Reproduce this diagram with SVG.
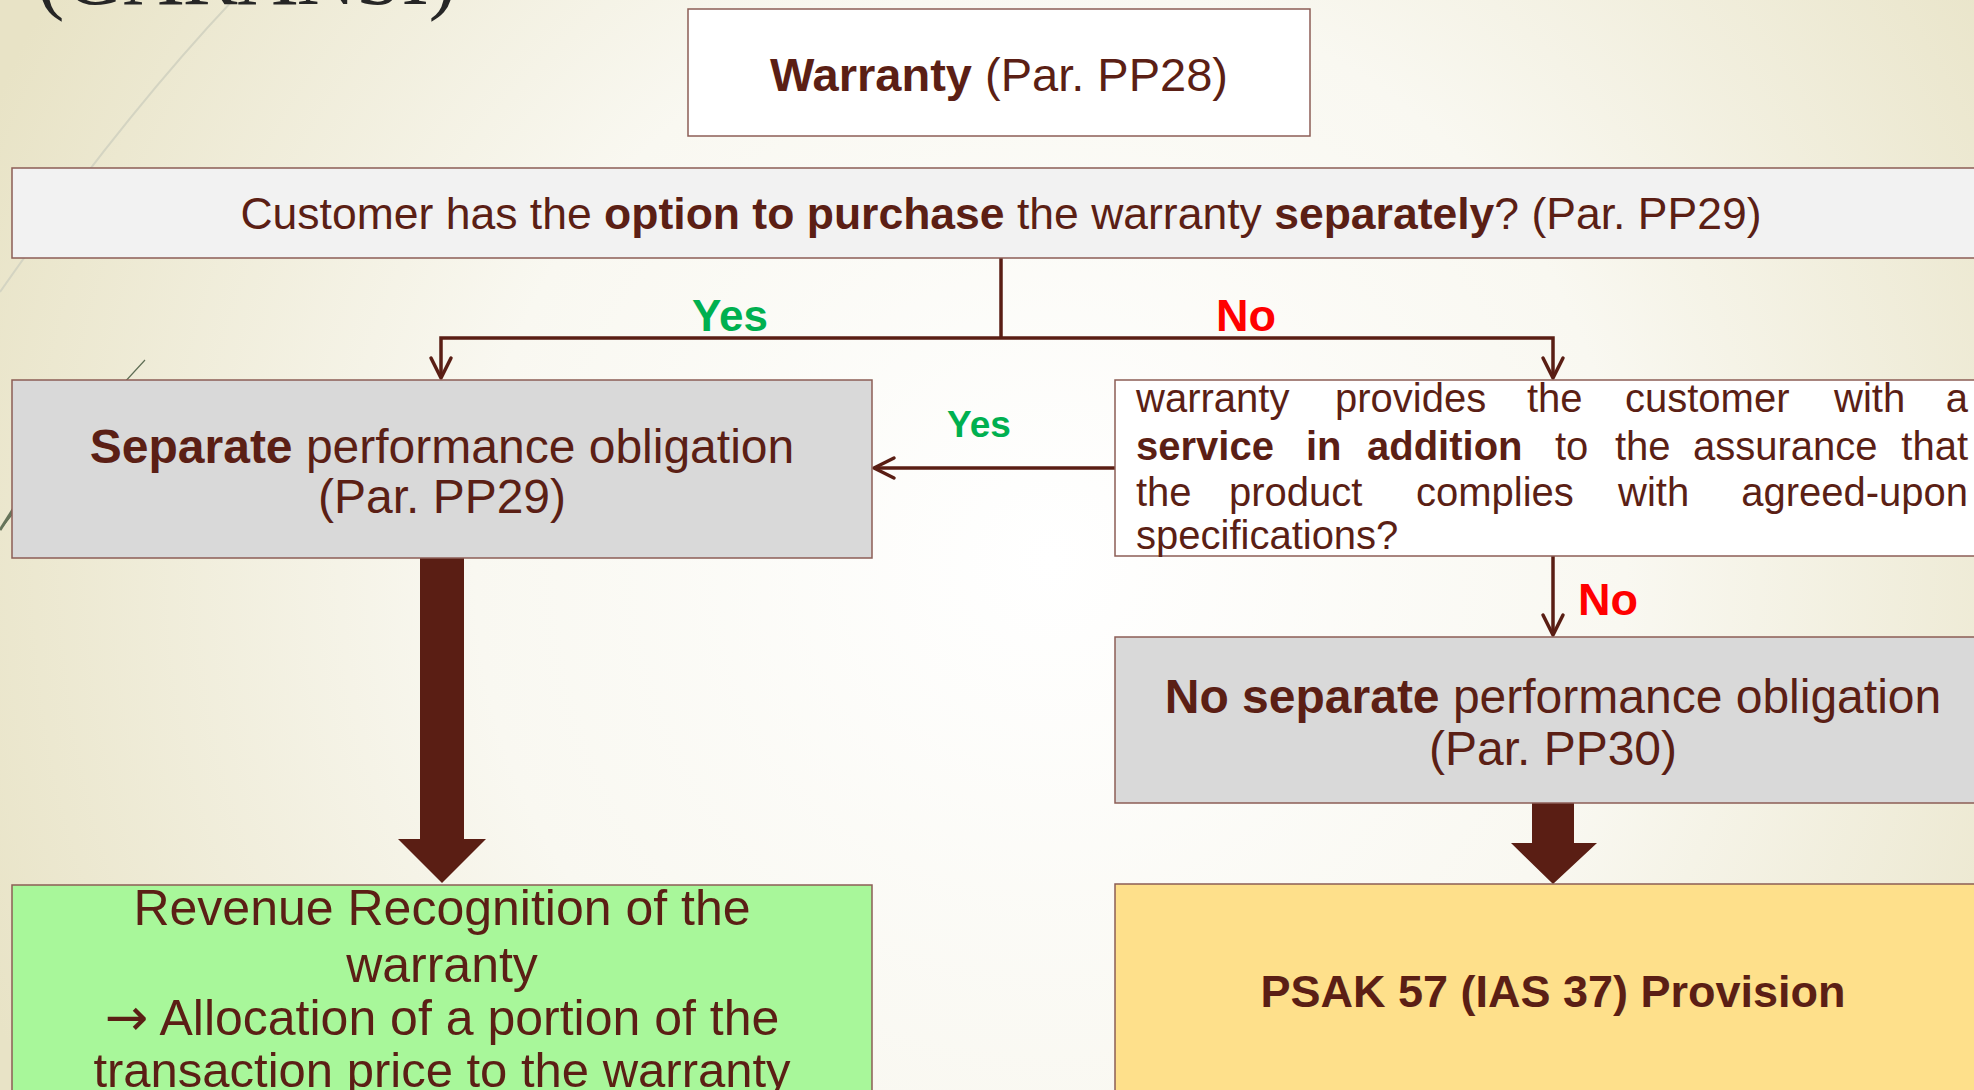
<svg xmlns="http://www.w3.org/2000/svg" width="1974" height="1090" viewBox="0 0 1974 1090">
  <defs>
    <radialGradient id="bg" cx="1050" cy="560" r="1150" gradientUnits="userSpaceOnUse">
      <stop offset="0" stop-color="#ffffff"/>
      <stop offset="0.5" stop-color="#f9f8f1"/>
      <stop offset="1" stop-color="#e8e3c6"/>
    </radialGradient>
    <marker id="chevron" markerUnits="userSpaceOnUse" markerWidth="26" markerHeight="26" viewBox="0 0 26 26" refX="23" refY="13" orient="auto">
      <path d="M3,3 L23,13 L3,23" fill="none" stroke="#5a1e14" stroke-width="3.5" stroke-linecap="round" stroke-linejoin="round"/>
    </marker>
    <style>
      .box { stroke: #8c5d56; stroke-width: 1.5; }
      .t { font-family: "Liberation Sans", Arial, sans-serif; fill: #5b1f15; }
      .b { font-weight: bold; }
      .c { text-anchor: middle; }
      .e { text-anchor: end; }
      .yes { font-family: "Liberation Sans", Arial, sans-serif; font-weight: bold; fill: #00b050; }
      .no { font-family: "Liberation Sans", Arial, sans-serif; font-weight: bold; fill: #ff0000; }
      .link { fill: none; stroke: #5a1e14; stroke-width: 3.5; }
      .big { fill: #5a1e14; }
      .arrow { font-family: "DejaVu Sans", sans-serif; }
    </style>
  </defs>

  <!-- background and theme decoration -->
  <rect x="0" y="0" width="1974" height="1090" fill="url(#bg)"/>
  <path d="M233,0 Q120,120 0,292" fill="none" stroke="#d4d4c2" stroke-width="2"/>
  <path d="M145,360 Q70,440 0,530" fill="none" stroke="#5f6e55" stroke-width="1.2"/>
  <path d="M14,508 L0,530" fill="none" stroke="#66745a" stroke-width="3"/>
  <text x="37" y="4" font-family="'Liberation Serif', 'Times New Roman', serif" font-size="82" fill="#262626">(GARANSI)</text>

  <!-- connectors -->
  <g id="connectors">
    <path class="link" d="M1001,258 V338"/>
    <path class="link" d="M1001,338 H441 V378" marker-end="url(#chevron)"/>
    <path class="link" d="M1001,338 H1553 V378" marker-end="url(#chevron)"/>
    <path class="link" d="M1115,468 H874" marker-end="url(#chevron)"/>
    <path class="link" d="M1553,556 V635" marker-end="url(#chevron)"/>
    <polygon class="big" points="420,558 464,558 464,839 486,839 442,883 398,839 420,839"/>
    <polygon class="big" points="1532,803 1574,803 1574,843 1597,843 1553,884 1511,843 1532,843"/>
    <text class="yes c" x="730" y="331" font-size="44">Yes</text>
    <text class="no c" x="1246" y="331" font-size="45">No</text>
    <text class="yes c" x="979" y="437" font-size="37">Yes</text>
    <text class="no" x="1578" y="615" font-size="45">No</text>
  </g>

  <g id="warranty">
    <rect class="box" x="688" y="9" width="622" height="127" fill="#ffffff"/>
    <text class="t c" x="999" y="91" font-size="47"><tspan class="b">Warranty</tspan> (Par. PP28)</text>
  </g>

  <g id="purchase-separately">
    <rect class="box" x="12" y="168" width="1980" height="90" fill="#f2f2f2"/>
    <text class="t c" x="1001" y="229" font-size="44.5">Customer has the <tspan class="b">option to purchase</tspan> the warranty <tspan class="b">separately</tspan>? (Par. PP29)</text>
  </g>

  <g id="separate-po">
    <rect class="box" x="12" y="380" width="860" height="178" fill="#d9d9d9"/>
    <text class="t c" x="442" y="463" font-size="48"><tspan class="b">Separate</tspan> performance obligation</text>
    <text class="t c" x="442" y="513" font-size="48">(Par. PP29)</text>
  </g>

  <g id="service-in-addition">
    <rect class="box" x="1115" y="380" width="880" height="176" fill="#ffffff"/>
    <!-- justified paragraph: words placed one by one, last word of each full line flush right -->
    <text class="t" y="412" font-size="40"><tspan x="1136">warranty</tspan><tspan x="1335">provides</tspan><tspan x="1527">the</tspan><tspan x="1625">customer</tspan><tspan x="1834">with</tspan></text>
    <text class="t e" x="1968" y="412" font-size="40">a</text>
    <text class="t" y="460" font-size="40"><tspan class="b" x="1136">service</tspan><tspan class="b" x="1306">in</tspan><tspan class="b" x="1367">addition</tspan><tspan x="1555">to</tspan><tspan x="1615">the</tspan><tspan x="1693">assurance</tspan></text>
    <text class="t e" x="1968" y="460" font-size="40">that</text>
    <text class="t" y="506" font-size="40"><tspan x="1136">the</tspan><tspan x="1229">product</tspan><tspan x="1416">complies</tspan><tspan x="1618">with</tspan></text>
    <text class="t e" x="1968" y="506" font-size="40">agreed-upon</text>
    <text class="t" x="1136" y="549" font-size="40">specifications?</text>
  </g>

  <g id="no-separate-po">
    <rect class="box" x="1115" y="637" width="880" height="166" fill="#d9d9d9"/>
    <text class="t c" x="1553" y="713" font-size="48"><tspan class="b">No separate</tspan> performance obligation</text>
    <text class="t c" x="1553" y="765" font-size="48">(Par. PP30)</text>
  </g>

  <g id="revenue-recognition">
    <rect class="box" x="12" y="885" width="860" height="220" fill="#a8f79a"/>
    <text class="t c" x="442" y="925" font-size="50">Revenue Recognition of the</text>
    <text class="t c" x="442" y="982" font-size="50">warranty</text>
    <text class="t c" x="442" y="1035" font-size="50"><tspan class="arrow" font-size="52">→</tspan> Allocation of a portion of the</text>
    <text class="t c" x="442" y="1087" font-size="49">transaction price to the warranty</text>
  </g>

  <g id="provision">
    <rect class="box" x="1115" y="884" width="880" height="220" fill="#fee08b"/>
    <text class="t b c" x="1553" y="1007" font-size="45">PSAK 57 (IAS 37) Provision</text>
  </g>
</svg>
